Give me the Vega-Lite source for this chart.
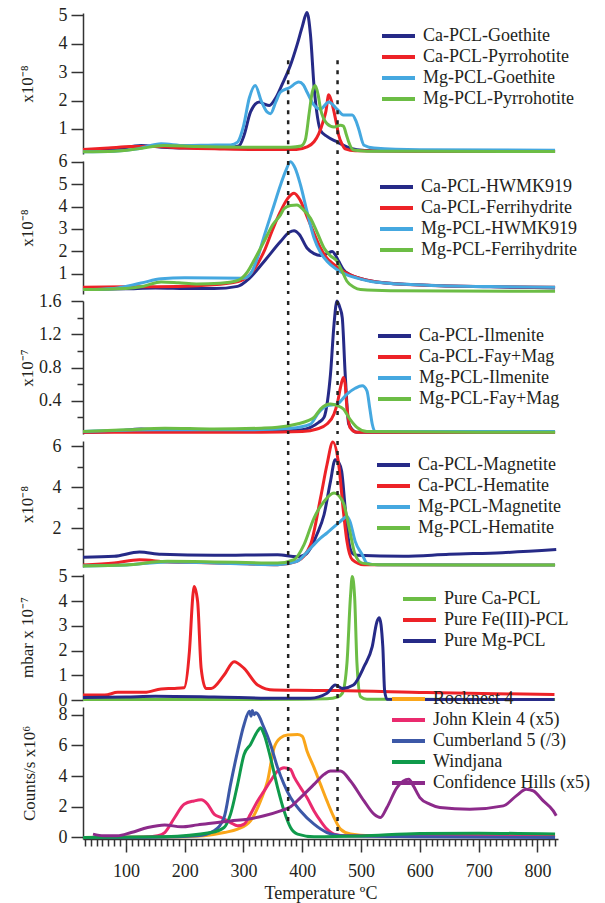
{
"$schema": "https://vega.github.io/schema/vega-lite/v6.json",
"padding": {"top": 6, "left": 18, "right": 5, "bottom": 2},
"spacing": 7,
"bounds": "flush",
"config": {
 "font": "Times New Roman, Liberation Serif, serif",
 "view": {"stroke": null},
 "axis": {"domainColor": "#333", "tickColor": "#333", "labelColor": "#231f20", "titleColor": "#231f20", "labelFont": "Times New Roman, Liberation Serif, serif", "titleFont": "Times New Roman, Liberation Serif, serif", "labelFontSize": 18, "titleFontSize": 17, "titleFontWeight": "normal", "grid": false, "domainWidth": 1.5, "tickWidth": 1.5, "labelPadding": 4, "labelOverlap": false},
 "legend": {"orient": "none", "title": null, "symbolType": "stroke", "symbolSize": 1089, "symbolStrokeWidth": 4, "labelFont": "Times New Roman, Liberation Serif, serif", "labelFontSize": 18, "labelColor": "#231f20", "labelOffset": 6, "clipHeight": 21, "rowPadding": 0, "padding": 0, "labelLimit": 300}
},
"resolve": {"scale": {"color": "independent", "x": "independent", "y": "independent"}, "legend": {"color": "independent"}},
"datasets": {
 "p1": [
  {"s":"Ca-PCL-Goethite","T":27,"v":0.22},{"s":"Ca-PCL-Goethite","T":80,"v":0.27},{"s":"Ca-PCL-Goethite","T":126,"v":0.42},{"s":"Ca-PCL-Goethite","T":160,"v":0.36},{"s":"Ca-PCL-Goethite","T":220,"v":0.33},{"s":"Ca-PCL-Goethite","T":278,"v":0.36},{"s":"Ca-PCL-Goethite","T":292,"v":0.4},{"s":"Ca-PCL-Goethite","T":301,"v":0.78},{"s":"Ca-PCL-Goethite","T":312,"v":1.6},{"s":"Ca-PCL-Goethite","T":327,"v":1.95},{"s":"Ca-PCL-Goethite","T":336,"v":1.87},{"s":"Ca-PCL-Goethite","T":344,"v":1.83},{"s":"Ca-PCL-Goethite","T":355,"v":2.1},{"s":"Ca-PCL-Goethite","T":366,"v":2.58},{"s":"Ca-PCL-Goethite","T":380,"v":3.25},{"s":"Ca-PCL-Goethite","T":391,"v":3.95},{"s":"Ca-PCL-Goethite","T":400,"v":4.6},{"s":"Ca-PCL-Goethite","T":408,"v":5.1},{"s":"Ca-PCL-Goethite","T":414,"v":4.3},{"s":"Ca-PCL-Goethite","T":420,"v":2.5},{"s":"Ca-PCL-Goethite","T":426,"v":1.4},{"s":"Ca-PCL-Goethite","T":431,"v":0.95},{"s":"Ca-PCL-Goethite","T":442,"v":0.74},{"s":"Ca-PCL-Goethite","T":459,"v":0.55},{"s":"Ca-PCL-Goethite","T":476,"v":0.37},{"s":"Ca-PCL-Goethite","T":493,"v":0.27},{"s":"Ca-PCL-Goethite","T":520,"v":0.23},{"s":"Ca-PCL-Goethite","T":650,"v":0.22},{"s":"Ca-PCL-Goethite","T":830,"v":0.21},
  {"s":"Ca-PCL-Pyrrohotite","T":27,"v":0.28},{"s":"Ca-PCL-Pyrrohotite","T":70,"v":0.33},{"s":"Ca-PCL-Pyrrohotite","T":109,"v":0.38},{"s":"Ca-PCL-Pyrrohotite","T":150,"v":0.38},{"s":"Ca-PCL-Pyrrohotite","T":200,"v":0.33},{"s":"Ca-PCL-Pyrrohotite","T":260,"v":0.3},{"s":"Ca-PCL-Pyrrohotite","T":330,"v":0.28},{"s":"Ca-PCL-Pyrrohotite","T":390,"v":0.28},{"s":"Ca-PCL-Pyrrohotite","T":408,"v":0.37},{"s":"Ca-PCL-Pyrrohotite","T":420,"v":0.55},{"s":"Ca-PCL-Pyrrohotite","T":428,"v":0.83},{"s":"Ca-PCL-Pyrrohotite","T":436,"v":1.3},{"s":"Ca-PCL-Pyrrohotite","T":440,"v":1.6},{"s":"Ca-PCL-Pyrrohotite","T":445,"v":2.2},{"s":"Ca-PCL-Pyrrohotite","T":450,"v":1.95},{"s":"Ca-PCL-Pyrrohotite","T":454,"v":1.6},{"s":"Ca-PCL-Pyrrohotite","T":458,"v":1.2},{"s":"Ca-PCL-Pyrrohotite","T":462,"v":0.78},{"s":"Ca-PCL-Pyrrohotite","T":468,"v":0.45},{"s":"Ca-PCL-Pyrrohotite","T":473,"v":0.3},{"s":"Ca-PCL-Pyrrohotite","T":490,"v":0.23},{"s":"Ca-PCL-Pyrrohotite","T":600,"v":0.22},{"s":"Ca-PCL-Pyrrohotite","T":830,"v":0.21},
  {"s":"Mg-PCL-Goethite","T":27,"v":0.2},{"s":"Mg-PCL-Goethite","T":80,"v":0.22},{"s":"Mg-PCL-Goethite","T":120,"v":0.3},{"s":"Mg-PCL-Goethite","T":160,"v":0.48},{"s":"Mg-PCL-Goethite","T":200,"v":0.42},{"s":"Mg-PCL-Goethite","T":240,"v":0.43},{"s":"Mg-PCL-Goethite","T":278,"v":0.44},{"s":"Mg-PCL-Goethite","T":290,"v":0.54},{"s":"Mg-PCL-Goethite","T":300,"v":1.1},{"s":"Mg-PCL-Goethite","T":310,"v":2.1},{"s":"Mg-PCL-Goethite","T":320,"v":2.53},{"s":"Mg-PCL-Goethite","T":330,"v":2.0},{"s":"Mg-PCL-Goethite","T":340,"v":1.6},{"s":"Mg-PCL-Goethite","T":346,"v":1.54},{"s":"Mg-PCL-Goethite","T":355,"v":1.95},{"s":"Mg-PCL-Goethite","T":363,"v":2.3},{"s":"Mg-PCL-Goethite","T":378,"v":2.45},{"s":"Mg-PCL-Goethite","T":394,"v":2.65},{"s":"Mg-PCL-Goethite","T":402,"v":2.55},{"s":"Mg-PCL-Goethite","T":408,"v":2.3},{"s":"Mg-PCL-Goethite","T":420,"v":1.84},{"s":"Mg-PCL-Goethite","T":431,"v":1.7},{"s":"Mg-PCL-Goethite","T":445,"v":1.95},{"s":"Mg-PCL-Goethite","T":459,"v":1.7},{"s":"Mg-PCL-Goethite","T":470,"v":1.49},{"s":"Mg-PCL-Goethite","T":485,"v":1.49},{"s":"Mg-PCL-Goethite","T":491,"v":1.3},{"s":"Mg-PCL-Goethite","T":496,"v":1.0},{"s":"Mg-PCL-Goethite","T":505,"v":0.43},{"s":"Mg-PCL-Goethite","T":522,"v":0.33},{"s":"Mg-PCL-Goethite","T":600,"v":0.27},{"s":"Mg-PCL-Goethite","T":830,"v":0.25},
  {"s":"Mg-PCL-Pyrrohotite","T":27,"v":0.2},{"s":"Mg-PCL-Pyrrohotite","T":80,"v":0.22},{"s":"Mg-PCL-Pyrrohotite","T":120,"v":0.3},{"s":"Mg-PCL-Pyrrohotite","T":165,"v":0.42},{"s":"Mg-PCL-Pyrrohotite","T":220,"v":0.38},{"s":"Mg-PCL-Pyrrohotite","T":300,"v":0.36},{"s":"Mg-PCL-Pyrrohotite","T":380,"v":0.36},{"s":"Mg-PCL-Pyrrohotite","T":398,"v":0.4},{"s":"Mg-PCL-Pyrrohotite","T":405,"v":0.6},{"s":"Mg-PCL-Pyrrohotite","T":412,"v":1.6},{"s":"Mg-PCL-Pyrrohotite","T":417,"v":2.3},{"s":"Mg-PCL-Pyrrohotite","T":422,"v":2.53},{"s":"Mg-PCL-Pyrrohotite","T":427,"v":2.2},{"s":"Mg-PCL-Pyrrohotite","T":431,"v":1.71},{"s":"Mg-PCL-Pyrrohotite","T":442,"v":1.19},{"s":"Mg-PCL-Pyrrohotite","T":454,"v":1.07},{"s":"Mg-PCL-Pyrrohotite","T":465,"v":1.13},{"s":"Mg-PCL-Pyrrohotite","T":470,"v":1.1},{"s":"Mg-PCL-Pyrrohotite","T":475,"v":0.8},{"s":"Mg-PCL-Pyrrohotite","T":479,"v":0.54},{"s":"Mg-PCL-Pyrrohotite","T":487,"v":0.26},{"s":"Mg-PCL-Pyrrohotite","T":510,"v":0.22},{"s":"Mg-PCL-Pyrrohotite","T":830,"v":0.21}
 ],
 "p2": [
  {"s":"Ca-PCL-HWMK919","T":27,"v":0.3},{"s":"Ca-PCL-HWMK919","T":100,"v":0.33},{"s":"Ca-PCL-HWMK919","T":150,"v":0.37},{"s":"Ca-PCL-HWMK919","T":200,"v":0.35},{"s":"Ca-PCL-HWMK919","T":250,"v":0.34},{"s":"Ca-PCL-HWMK919","T":290,"v":0.44},{"s":"Ca-PCL-HWMK919","T":310,"v":0.8},{"s":"Ca-PCL-HWMK919","T":335,"v":1.55},{"s":"Ca-PCL-HWMK919","T":363,"v":2.44},{"s":"Ca-PCL-HWMK919","T":378,"v":2.85},{"s":"Ca-PCL-HWMK919","T":386,"v":2.92},{"s":"Ca-PCL-HWMK919","T":395,"v":2.75},{"s":"Ca-PCL-HWMK919","T":408,"v":2.15},{"s":"Ca-PCL-HWMK919","T":420,"v":1.9},{"s":"Ca-PCL-HWMK919","T":431,"v":1.82},{"s":"Ca-PCL-HWMK919","T":442,"v":1.9},{"s":"Ca-PCL-HWMK919","T":451,"v":2.0},{"s":"Ca-PCL-HWMK919","T":456,"v":1.85},{"s":"Ca-PCL-HWMK919","T":462,"v":1.56},{"s":"Ca-PCL-HWMK919","T":470,"v":1.19},{"s":"Ca-PCL-HWMK919","T":480,"v":0.98},{"s":"Ca-PCL-HWMK919","T":493,"v":0.84},{"s":"Ca-PCL-HWMK919","T":527,"v":0.64},{"s":"Ca-PCL-HWMK919","T":612,"v":0.49},{"s":"Ca-PCL-HWMK919","T":720,"v":0.42},{"s":"Ca-PCL-HWMK919","T":830,"v":0.37},
  {"s":"Ca-PCL-Ferrihydrite","T":27,"v":0.4},{"s":"Ca-PCL-Ferrihydrite","T":100,"v":0.42},{"s":"Ca-PCL-Ferrihydrite","T":200,"v":0.45},{"s":"Ca-PCL-Ferrihydrite","T":277,"v":0.59},{"s":"Ca-PCL-Ferrihydrite","T":300,"v":0.75},{"s":"Ca-PCL-Ferrihydrite","T":318,"v":1.2},{"s":"Ca-PCL-Ferrihydrite","T":335,"v":2.0},{"s":"Ca-PCL-Ferrihydrite","T":350,"v":3.0},{"s":"Ca-PCL-Ferrihydrite","T":363,"v":3.78},{"s":"Ca-PCL-Ferrihydrite","T":375,"v":4.35},{"s":"Ca-PCL-Ferrihydrite","T":386,"v":4.59},{"s":"Ca-PCL-Ferrihydrite","T":396,"v":4.3},{"s":"Ca-PCL-Ferrihydrite","T":408,"v":3.56},{"s":"Ca-PCL-Ferrihydrite","T":420,"v":2.8},{"s":"Ca-PCL-Ferrihydrite","T":431,"v":2.15},{"s":"Ca-PCL-Ferrihydrite","T":442,"v":1.7},{"s":"Ca-PCL-Ferrihydrite","T":451,"v":1.48},{"s":"Ca-PCL-Ferrihydrite","T":470,"v":1.11},{"s":"Ca-PCL-Ferrihydrite","T":493,"v":0.84},{"s":"Ca-PCL-Ferrihydrite","T":527,"v":0.64},{"s":"Ca-PCL-Ferrihydrite","T":612,"v":0.49},{"s":"Ca-PCL-Ferrihydrite","T":720,"v":0.43},{"s":"Ca-PCL-Ferrihydrite","T":830,"v":0.4},
  {"s":"Mg-PCL-HWMK919","T":27,"v":0.3},{"s":"Mg-PCL-HWMK919","T":80,"v":0.35},{"s":"Mg-PCL-HWMK919","T":126,"v":0.59},{"s":"Mg-PCL-HWMK919","T":160,"v":0.78},{"s":"Mg-PCL-HWMK919","T":200,"v":0.82},{"s":"Mg-PCL-HWMK919","T":300,"v":0.8},{"s":"Mg-PCL-HWMK919","T":312,"v":1.0},{"s":"Mg-PCL-HWMK919","T":325,"v":1.8},{"s":"Mg-PCL-HWMK919","T":335,"v":2.67},{"s":"Mg-PCL-HWMK919","T":350,"v":3.9},{"s":"Mg-PCL-HWMK919","T":363,"v":4.96},{"s":"Mg-PCL-HWMK919","T":372,"v":5.6},{"s":"Mg-PCL-HWMK919","T":380,"v":6.0},{"s":"Mg-PCL-HWMK919","T":388,"v":5.7},{"s":"Mg-PCL-HWMK919","T":397,"v":4.96},{"s":"Mg-PCL-HWMK919","T":408,"v":3.78},{"s":"Mg-PCL-HWMK919","T":420,"v":2.6},{"s":"Mg-PCL-HWMK919","T":431,"v":1.95},{"s":"Mg-PCL-HWMK919","T":442,"v":1.56},{"s":"Mg-PCL-HWMK919","T":459,"v":1.19},{"s":"Mg-PCL-HWMK919","T":476,"v":0.95},{"s":"Mg-PCL-HWMK919","T":493,"v":0.81},{"s":"Mg-PCL-HWMK919","T":527,"v":0.62},{"s":"Mg-PCL-HWMK919","T":612,"v":0.49},{"s":"Mg-PCL-HWMK919","T":720,"v":0.43},{"s":"Mg-PCL-HWMK919","T":830,"v":0.4},
  {"s":"Mg-PCL-Ferrihydrite","T":27,"v":0.3},{"s":"Mg-PCL-Ferrihydrite","T":100,"v":0.35},{"s":"Mg-PCL-Ferrihydrite","T":130,"v":0.45},{"s":"Mg-PCL-Ferrihydrite","T":160,"v":0.64},{"s":"Mg-PCL-Ferrihydrite","T":190,"v":0.6},{"s":"Mg-PCL-Ferrihydrite","T":220,"v":0.55},{"s":"Mg-PCL-Ferrihydrite","T":260,"v":0.58},{"s":"Mg-PCL-Ferrihydrite","T":290,"v":0.7},{"s":"Mg-PCL-Ferrihydrite","T":307,"v":1.1},{"s":"Mg-PCL-Ferrihydrite","T":320,"v":1.7},{"s":"Mg-PCL-Ferrihydrite","T":335,"v":2.44},{"s":"Mg-PCL-Ferrihydrite","T":350,"v":3.2},{"s":"Mg-PCL-Ferrihydrite","T":363,"v":3.63},{"s":"Mg-PCL-Ferrihydrite","T":369,"v":3.9},{"s":"Mg-PCL-Ferrihydrite","T":380,"v":4.05},{"s":"Mg-PCL-Ferrihydrite","T":391,"v":4.07},{"s":"Mg-PCL-Ferrihydrite","T":402,"v":3.85},{"s":"Mg-PCL-Ferrihydrite","T":414,"v":3.48},{"s":"Mg-PCL-Ferrihydrite","T":426,"v":2.8},{"s":"Mg-PCL-Ferrihydrite","T":437,"v":2.15},{"s":"Mg-PCL-Ferrihydrite","T":448,"v":1.8},{"s":"Mg-PCL-Ferrihydrite","T":459,"v":1.56},{"s":"Mg-PCL-Ferrihydrite","T":467,"v":1.15},{"s":"Mg-PCL-Ferrihydrite","T":476,"v":0.67},{"s":"Mg-PCL-Ferrihydrite","T":488,"v":0.4},{"s":"Mg-PCL-Ferrihydrite","T":499,"v":0.3},{"s":"Mg-PCL-Ferrihydrite","T":550,"v":0.25},{"s":"Mg-PCL-Ferrihydrite","T":830,"v":0.22}
 ],
 "p3": [
  {"s":"Ca-PCL-Ilmenite","T":27,"v":0.02},{"s":"Ca-PCL-Ilmenite","T":80,"v":0.03},{"s":"Ca-PCL-Ilmenite","T":126,"v":0.06},{"s":"Ca-PCL-Ilmenite","T":170,"v":0.04},{"s":"Ca-PCL-Ilmenite","T":250,"v":0.03},{"s":"Ca-PCL-Ilmenite","T":350,"v":0.03},{"s":"Ca-PCL-Ilmenite","T":400,"v":0.05},{"s":"Ca-PCL-Ilmenite","T":414,"v":0.08},{"s":"Ca-PCL-Ilmenite","T":428,"v":0.14},{"s":"Ca-PCL-Ilmenite","T":437,"v":0.2},{"s":"Ca-PCL-Ilmenite","T":443,"v":0.4},{"s":"Ca-PCL-Ilmenite","T":448,"v":0.72},{"s":"Ca-PCL-Ilmenite","T":454,"v":1.32},{"s":"Ca-PCL-Ilmenite","T":459,"v":1.6},{"s":"Ca-PCL-Ilmenite","T":464,"v":1.52},{"s":"Ca-PCL-Ilmenite","T":468,"v":1.4},{"s":"Ca-PCL-Ilmenite","T":473,"v":0.72},{"s":"Ca-PCL-Ilmenite","T":479,"v":0.12},{"s":"Ca-PCL-Ilmenite","T":493,"v":0.02},{"s":"Ca-PCL-Ilmenite","T":830,"v":0.02},
  {"s":"Ca-PCL-Fay+Mag","T":27,"v":0.02},{"s":"Ca-PCL-Fay+Mag","T":200,"v":0.02},{"s":"Ca-PCL-Fay+Mag","T":330,"v":0.02},{"s":"Ca-PCL-Fay+Mag","T":400,"v":0.03},{"s":"Ca-PCL-Fay+Mag","T":425,"v":0.06},{"s":"Ca-PCL-Fay+Mag","T":442,"v":0.12},{"s":"Ca-PCL-Fay+Mag","T":454,"v":0.24},{"s":"Ca-PCL-Fay+Mag","T":460,"v":0.38},{"s":"Ca-PCL-Fay+Mag","T":465,"v":0.56},{"s":"Ca-PCL-Fay+Mag","T":470,"v":0.68},{"s":"Ca-PCL-Fay+Mag","T":473,"v":0.6},{"s":"Ca-PCL-Fay+Mag","T":475,"v":0.4},{"s":"Ca-PCL-Fay+Mag","T":478,"v":0.2},{"s":"Ca-PCL-Fay+Mag","T":481,"v":0.08},{"s":"Ca-PCL-Fay+Mag","T":493,"v":0.02},{"s":"Ca-PCL-Fay+Mag","T":830,"v":0.02},
  {"s":"Mg-PCL-Ilmenite","T":27,"v":0.03},{"s":"Mg-PCL-Ilmenite","T":150,"v":0.05},{"s":"Mg-PCL-Ilmenite","T":300,"v":0.05},{"s":"Mg-PCL-Ilmenite","T":380,"v":0.07},{"s":"Mg-PCL-Ilmenite","T":414,"v":0.12},{"s":"Mg-PCL-Ilmenite","T":428,"v":0.26},{"s":"Mg-PCL-Ilmenite","T":442,"v":0.34},{"s":"Mg-PCL-Ilmenite","T":459,"v":0.36},{"s":"Mg-PCL-Ilmenite","T":476,"v":0.48},{"s":"Mg-PCL-Ilmenite","T":490,"v":0.55},{"s":"Mg-PCL-Ilmenite","T":502,"v":0.58},{"s":"Mg-PCL-Ilmenite","T":510,"v":0.52},{"s":"Mg-PCL-Ilmenite","T":515,"v":0.3},{"s":"Mg-PCL-Ilmenite","T":519,"v":0.12},{"s":"Mg-PCL-Ilmenite","T":524,"v":0.03},{"s":"Mg-PCL-Ilmenite","T":600,"v":0.03},{"s":"Mg-PCL-Ilmenite","T":830,"v":0.03},
  {"s":"Mg-PCL-Fay+Mag","T":27,"v":0.03},{"s":"Mg-PCL-Fay+Mag","T":100,"v":0.05},{"s":"Mg-PCL-Fay+Mag","T":166,"v":0.07},{"s":"Mg-PCL-Fay+Mag","T":250,"v":0.06},{"s":"Mg-PCL-Fay+Mag","T":330,"v":0.07},{"s":"Mg-PCL-Fay+Mag","T":358,"v":0.08},{"s":"Mg-PCL-Fay+Mag","T":391,"v":0.12},{"s":"Mg-PCL-Fay+Mag","T":410,"v":0.16},{"s":"Mg-PCL-Fay+Mag","T":420,"v":0.2},{"s":"Mg-PCL-Fay+Mag","T":431,"v":0.3},{"s":"Mg-PCL-Fay+Mag","T":448,"v":0.36},{"s":"Mg-PCL-Fay+Mag","T":460,"v":0.34},{"s":"Mg-PCL-Fay+Mag","T":470,"v":0.3},{"s":"Mg-PCL-Fay+Mag","T":481,"v":0.18},{"s":"Mg-PCL-Fay+Mag","T":493,"v":0.08},{"s":"Mg-PCL-Fay+Mag","T":510,"v":0.03},{"s":"Mg-PCL-Fay+Mag","T":830,"v":0.02}
 ],
 "p4": [
  {"s":"Ca-PCL-Magnetite","T":27,"v":0.57},{"s":"Ca-PCL-Magnetite","T":80,"v":0.62},{"s":"Ca-PCL-Magnetite","T":123,"v":0.83},{"s":"Ca-PCL-Magnetite","T":160,"v":0.72},{"s":"Ca-PCL-Magnetite","T":250,"v":0.67},{"s":"Ca-PCL-Magnetite","T":358,"v":0.7},{"s":"Ca-PCL-Magnetite","T":391,"v":0.6},{"s":"Ca-PCL-Magnetite","T":405,"v":0.7},{"s":"Ca-PCL-Magnetite","T":414,"v":1.02},{"s":"Ca-PCL-Magnetite","T":425,"v":1.7},{"s":"Ca-PCL-Magnetite","T":437,"v":2.65},{"s":"Ca-PCL-Magnetite","T":448,"v":4.28},{"s":"Ca-PCL-Magnetite","T":456,"v":5.34},{"s":"Ca-PCL-Magnetite","T":462,"v":5.2},{"s":"Ca-PCL-Magnetite","T":467,"v":4.77},{"s":"Ca-PCL-Magnetite","T":473,"v":2.98},{"s":"Ca-PCL-Magnetite","T":479,"v":1.35},{"s":"Ca-PCL-Magnetite","T":485,"v":0.78},{"s":"Ca-PCL-Magnetite","T":493,"v":0.67},{"s":"Ca-PCL-Magnetite","T":572,"v":0.62},{"s":"Ca-PCL-Magnetite","T":650,"v":0.72},{"s":"Ca-PCL-Magnetite","T":740,"v":0.8},{"s":"Ca-PCL-Magnetite","T":832,"v":0.95},
  {"s":"Ca-PCL-Hematite","T":27,"v":0.2},{"s":"Ca-PCL-Hematite","T":80,"v":0.3},{"s":"Ca-PCL-Hematite","T":123,"v":0.45},{"s":"Ca-PCL-Hematite","T":170,"v":0.35},{"s":"Ca-PCL-Hematite","T":250,"v":0.3},{"s":"Ca-PCL-Hematite","T":310,"v":0.25},{"s":"Ca-PCL-Hematite","T":358,"v":0.21},{"s":"Ca-PCL-Hematite","T":391,"v":0.38},{"s":"Ca-PCL-Hematite","T":414,"v":1.19},{"s":"Ca-PCL-Hematite","T":431,"v":3.46},{"s":"Ca-PCL-Hematite","T":442,"v":5.09},{"s":"Ca-PCL-Hematite","T":452,"v":6.2},{"s":"Ca-PCL-Hematite","T":462,"v":5.09},{"s":"Ca-PCL-Hematite","T":470,"v":2.81},{"s":"Ca-PCL-Hematite","T":476,"v":1.35},{"s":"Ca-PCL-Hematite","T":485,"v":0.46},{"s":"Ca-PCL-Hematite","T":505,"v":0.21},{"s":"Ca-PCL-Hematite","T":830,"v":0.2},
  {"s":"Mg-PCL-Magnetite","T":27,"v":0.15},{"s":"Mg-PCL-Magnetite","T":100,"v":0.2},{"s":"Mg-PCL-Magnetite","T":170,"v":0.35},{"s":"Mg-PCL-Magnetite","T":250,"v":0.3},{"s":"Mg-PCL-Magnetite","T":358,"v":0.21},{"s":"Mg-PCL-Magnetite","T":391,"v":0.38},{"s":"Mg-PCL-Magnetite","T":414,"v":1.02},{"s":"Mg-PCL-Magnetite","T":431,"v":1.51},{"s":"Mg-PCL-Magnetite","T":442,"v":1.76},{"s":"Mg-PCL-Magnetite","T":465,"v":2.33},{"s":"Mg-PCL-Magnetite","T":476,"v":2.57},{"s":"Mg-PCL-Magnetite","T":481,"v":2.33},{"s":"Mg-PCL-Magnetite","T":490,"v":1.35},{"s":"Mg-PCL-Magnetite","T":502,"v":0.7},{"s":"Mg-PCL-Magnetite","T":510,"v":0.29},{"s":"Mg-PCL-Magnetite","T":527,"v":0.21},{"s":"Mg-PCL-Magnetite","T":830,"v":0.2},
  {"s":"Mg-PCL-Hematite","T":27,"v":0.15},{"s":"Mg-PCL-Hematite","T":100,"v":0.2},{"s":"Mg-PCL-Hematite","T":170,"v":0.38},{"s":"Mg-PCL-Hematite","T":250,"v":0.35},{"s":"Mg-PCL-Hematite","T":330,"v":0.3},{"s":"Mg-PCL-Hematite","T":358,"v":0.29},{"s":"Mg-PCL-Hematite","T":386,"v":0.46},{"s":"Mg-PCL-Hematite","T":403,"v":1.19},{"s":"Mg-PCL-Hematite","T":420,"v":2.49},{"s":"Mg-PCL-Hematite","T":437,"v":3.3},{"s":"Mg-PCL-Hematite","T":454,"v":3.71},{"s":"Mg-PCL-Hematite","T":470,"v":3.22},{"s":"Mg-PCL-Hematite","T":481,"v":1.84},{"s":"Mg-PCL-Hematite","T":490,"v":0.7},{"s":"Mg-PCL-Hematite","T":502,"v":0.29},{"s":"Mg-PCL-Hematite","T":530,"v":0.21},{"s":"Mg-PCL-Hematite","T":830,"v":0.2}
 ],
 "p5": [
  {"s":"Pure Ca-PCL","T":27,"v":0.02},{"s":"Pure Ca-PCL","T":200,"v":0.02},{"s":"Pure Ca-PCL","T":400,"v":0.03},{"s":"Pure Ca-PCL","T":442,"v":0.05},{"s":"Pure Ca-PCL","T":460,"v":0.12},{"s":"Pure Ca-PCL","T":468,"v":0.27},{"s":"Pure Ca-PCL","T":476,"v":1.49},{"s":"Pure Ca-PCL","T":482,"v":4.19},{"s":"Pure Ca-PCL","T":485,"v":5.0},{"s":"Pure Ca-PCL","T":489,"v":4.19},{"s":"Pure Ca-PCL","T":493,"v":1.49},{"s":"Pure Ca-PCL","T":499,"v":0.14},{"s":"Pure Ca-PCL","T":510,"v":0.03},{"s":"Pure Ca-PCL","T":830,"v":0.02},
  {"s":"Pure Fe(III)-PCL","T":27,"v":0.2},{"s":"Pure Fe(III)-PCL","T":64,"v":0.2},{"s":"Pure Fe(III)-PCL","T":86,"v":0.31},{"s":"Pure Fe(III)-PCL","T":132,"v":0.31},{"s":"Pure Fe(III)-PCL","T":160,"v":0.45},{"s":"Pure Fe(III)-PCL","T":183,"v":0.47},{"s":"Pure Fe(III)-PCL","T":199,"v":0.5},{"s":"Pure Fe(III)-PCL","T":208,"v":1.96},{"s":"Pure Fe(III)-PCL","T":214,"v":4.25},{"s":"Pure Fe(III)-PCL","T":216,"v":4.59},{"s":"Pure Fe(III)-PCL","T":222,"v":3.98},{"s":"Pure Fe(III)-PCL","T":228,"v":1.28},{"s":"Pure Fe(III)-PCL","T":236,"v":0.47},{"s":"Pure Fe(III)-PCL","T":245,"v":0.47},{"s":"Pure Fe(III)-PCL","T":267,"v":1.01},{"s":"Pure Fe(III)-PCL","T":284,"v":1.55},{"s":"Pure Fe(III)-PCL","T":301,"v":1.28},{"s":"Pure Fe(III)-PCL","T":324,"v":0.61},{"s":"Pure Fe(III)-PCL","T":352,"v":0.4},{"s":"Pure Fe(III)-PCL","T":392,"v":0.39},{"s":"Pure Fe(III)-PCL","T":459,"v":0.38},{"s":"Pure Fe(III)-PCL","T":611,"v":0.3},{"s":"Pure Fe(III)-PCL","T":829,"v":0.22},
  {"s":"Pure Mg-PCL","T":27,"v":0.1},{"s":"Pure Mg-PCL","T":100,"v":0.12},{"s":"Pure Mg-PCL","T":150,"v":0.15},{"s":"Pure Mg-PCL","T":250,"v":0.12},{"s":"Pure Mg-PCL","T":358,"v":0.07},{"s":"Pure Mg-PCL","T":414,"v":0.07},{"s":"Pure Mg-PCL","T":442,"v":0.27},{"s":"Pure Mg-PCL","T":456,"v":0.61},{"s":"Pure Mg-PCL","T":468,"v":0.47},{"s":"Pure Mg-PCL","T":487,"v":0.61},{"s":"Pure Mg-PCL","T":505,"v":1.35},{"s":"Pure Mg-PCL","T":519,"v":2.16},{"s":"Pure Mg-PCL","T":527,"v":3.17},{"s":"Pure Mg-PCL","T":531,"v":3.33},{"s":"Pure Mg-PCL","T":537,"v":2.16},{"s":"Pure Mg-PCL","T":540,"v":0.4},{"s":"Pure Mg-PCL","T":544,"v":0.03},{"s":"Pure Mg-PCL","T":600,"v":0.02},{"s":"Pure Mg-PCL","T":829,"v":0.02}
 ],
 "p6": [
  {"s":"Rocknest 4","T":27,"v":0.0},{"s":"Rocknest 4","T":200,"v":0.05},{"s":"Rocknest 4","T":233,"v":0.11},{"s":"Rocknest 4","T":267,"v":0.32},{"s":"Rocknest 4","T":290,"v":0.54},{"s":"Rocknest 4","T":312,"v":1.08},{"s":"Rocknest 4","T":329,"v":2.38},{"s":"Rocknest 4","T":341,"v":3.68},{"s":"Rocknest 4","T":352,"v":5.84},{"s":"Rocknest 4","T":363,"v":6.49},{"s":"Rocknest 4","T":375,"v":6.67},{"s":"Rocknest 4","T":392,"v":6.71},{"s":"Rocknest 4","T":400,"v":6.6},{"s":"Rocknest 4","T":408,"v":5.63},{"s":"Rocknest 4","T":420,"v":4.55},{"s":"Rocknest 4","T":431,"v":3.46},{"s":"Rocknest 4","T":442,"v":2.38},{"s":"Rocknest 4","T":454,"v":1.3},{"s":"Rocknest 4","T":465,"v":0.54},{"s":"Rocknest 4","T":482,"v":0.22},{"s":"Rocknest 4","T":516,"v":0.11},{"s":"Rocknest 4","T":650,"v":0.1},{"s":"Rocknest 4","T":830,"v":0.1},
  {"s":"John Klein 4 (x5)","T":27,"v":0.0},{"s":"John Klein 4 (x5)","T":130,"v":0.02},{"s":"John Klein 4 (x5)","T":154,"v":0.11},{"s":"John Klein 4 (x5)","T":166,"v":0.32},{"s":"John Klein 4 (x5)","T":183,"v":1.3},{"s":"John Klein 4 (x5)","T":199,"v":2.17},{"s":"John Klein 4 (x5)","T":216,"v":2.38},{"s":"John Klein 4 (x5)","T":228,"v":2.45},{"s":"John Klein 4 (x5)","T":239,"v":2.17},{"s":"John Klein 4 (x5)","T":250,"v":1.52},{"s":"John Klein 4 (x5)","T":262,"v":1.3},{"s":"John Klein 4 (x5)","T":278,"v":0.97},{"s":"John Klein 4 (x5)","T":290,"v":0.76},{"s":"John Klein 4 (x5)","T":301,"v":0.87},{"s":"John Klein 4 (x5)","T":312,"v":1.52},{"s":"John Klein 4 (x5)","T":324,"v":2.38},{"s":"John Klein 4 (x5)","T":335,"v":3.03},{"s":"John Klein 4 (x5)","T":346,"v":3.68},{"s":"John Klein 4 (x5)","T":358,"v":4.33},{"s":"John Klein 4 (x5)","T":369,"v":4.55},{"s":"John Klein 4 (x5)","T":380,"v":4.44},{"s":"John Klein 4 (x5)","T":386,"v":3.95},{"s":"John Klein 4 (x5)","T":397,"v":3.25},{"s":"John Klein 4 (x5)","T":408,"v":2.6},{"s":"John Klein 4 (x5)","T":420,"v":1.73},{"s":"John Klein 4 (x5)","T":431,"v":1.08},{"s":"John Klein 4 (x5)","T":442,"v":0.54},{"s":"John Klein 4 (x5)","T":454,"v":0.22},{"s":"John Klein 4 (x5)","T":476,"v":0.11},{"s":"John Klein 4 (x5)","T":650,"v":0.12},{"s":"John Klein 4 (x5)","T":830,"v":0.1},
  {"s":"Cumberland 5 (/3)","T":27,"v":0.0},{"s":"Cumberland 5 (/3)","T":150,"v":0.02},{"s":"Cumberland 5 (/3)","T":222,"v":0.11},{"s":"Cumberland 5 (/3)","T":250,"v":0.43},{"s":"Cumberland 5 (/3)","T":267,"v":1.3},{"s":"Cumberland 5 (/3)","T":278,"v":3.46},{"s":"Cumberland 5 (/3)","T":290,"v":5.63},{"s":"Cumberland 5 (/3)","T":301,"v":7.36},{"s":"Cumberland 5 (/3)","T":310,"v":8.23},{"s":"Cumberland 5 (/3)","T":313,"v":7.9},{"s":"Cumberland 5 (/3)","T":315,"v":8.27},{"s":"Cumberland 5 (/3)","T":318,"v":8.0},{"s":"Cumberland 5 (/3)","T":321,"v":8.12},{"s":"Cumberland 5 (/3)","T":335,"v":7.14},{"s":"Cumberland 5 (/3)","T":346,"v":6.06},{"s":"Cumberland 5 (/3)","T":358,"v":4.55},{"s":"Cumberland 5 (/3)","T":369,"v":3.46},{"s":"Cumberland 5 (/3)","T":380,"v":2.6},{"s":"Cumberland 5 (/3)","T":397,"v":1.73},{"s":"Cumberland 5 (/3)","T":420,"v":0.87},{"s":"Cumberland 5 (/3)","T":442,"v":0.32},{"s":"Cumberland 5 (/3)","T":465,"v":0.11},{"s":"Cumberland 5 (/3)","T":600,"v":0.05},{"s":"Cumberland 5 (/3)","T":830,"v":0.0},
  {"s":"Windjana","T":27,"v":0.0},{"s":"Windjana","T":166,"v":0.05},{"s":"Windjana","T":245,"v":0.32},{"s":"Windjana","T":267,"v":0.65},{"s":"Windjana","T":278,"v":1.52},{"s":"Windjana","T":290,"v":3.46},{"s":"Windjana","T":301,"v":5.41},{"s":"Windjana","T":312,"v":6.06},{"s":"Windjana","T":324,"v":6.93},{"s":"Windjana","T":329,"v":7.14},{"s":"Windjana","T":335,"v":6.71},{"s":"Windjana","T":346,"v":5.19},{"s":"Windjana","T":358,"v":3.25},{"s":"Windjana","T":369,"v":1.73},{"s":"Windjana","T":380,"v":0.65},{"s":"Windjana","T":392,"v":0.22},{"s":"Windjana","T":420,"v":0.05},{"s":"Windjana","T":500,"v":0.1},{"s":"Windjana","T":600,"v":0.26},{"s":"Windjana","T":700,"v":0.28},{"s":"Windjana","T":830,"v":0.22},
  {"s":"Confidence Hills (x5)","T":44,"v":0.22},{"s":"Confidence Hills (x5)","T":62,"v":0.11},{"s":"Confidence Hills (x5)","T":85,"v":0.11},{"s":"Confidence Hills (x5)","T":109,"v":0.32},{"s":"Confidence Hills (x5)","T":137,"v":0.65},{"s":"Confidence Hills (x5)","T":166,"v":0.82},{"s":"Confidence Hills (x5)","T":194,"v":0.69},{"s":"Confidence Hills (x5)","T":222,"v":0.82},{"s":"Confidence Hills (x5)","T":278,"v":1.08},{"s":"Confidence Hills (x5)","T":307,"v":1.19},{"s":"Confidence Hills (x5)","T":335,"v":1.41},{"s":"Confidence Hills (x5)","T":363,"v":1.73},{"s":"Confidence Hills (x5)","T":380,"v":2.0},{"s":"Confidence Hills (x5)","T":397,"v":2.6},{"s":"Confidence Hills (x5)","T":420,"v":3.46},{"s":"Confidence Hills (x5)","T":437,"v":4.11},{"s":"Confidence Hills (x5)","T":448,"v":4.33},{"s":"Confidence Hills (x5)","T":465,"v":4.33},{"s":"Confidence Hills (x5)","T":482,"v":3.68},{"s":"Confidence Hills (x5)","T":505,"v":2.38},{"s":"Confidence Hills (x5)","T":522,"v":1.52},{"s":"Confidence Hills (x5)","T":533,"v":1.3},{"s":"Confidence Hills (x5)","T":544,"v":1.95},{"s":"Confidence Hills (x5)","T":561,"v":3.25},{"s":"Confidence Hills (x5)","T":572,"v":3.68},{"s":"Confidence Hills (x5)","T":581,"v":3.79},{"s":"Confidence Hills (x5)","T":589,"v":3.36},{"s":"Confidence Hills (x5)","T":600,"v":2.6},{"s":"Confidence Hills (x5)","T":617,"v":2.17},{"s":"Confidence Hills (x5)","T":634,"v":1.95},{"s":"Confidence Hills (x5)","T":685,"v":1.84},{"s":"Confidence Hills (x5)","T":742,"v":2.06},{"s":"Confidence Hills (x5)","T":764,"v":2.71},{"s":"Confidence Hills (x5)","T":781,"v":3.14},{"s":"Confidence Hills (x5)","T":793,"v":3.03},{"s":"Confidence Hills (x5)","T":810,"v":2.38},{"s":"Confidence Hills (x5)","T":827,"v":1.73},{"s":"Confidence Hills (x5)","T":832,"v":1.41}
 ],
 "d1": [{"T":376,"y":3.42,"y2":0.12},{"T":460,"y":3.42,"y2":0.12}],
 "dm": [{"T":376},{"T":460}],
 "d6": [{"T":376,"y":8.5,"y2":0.9},{"T":460,"y":8.5,"y2":0.3}]
},
"vconcat": [
 {"width": 475, "height": 141, "layer": [
  {"data": {"name": "p1"}, "mark": {"type": "line", "strokeWidth": 3, "interpolate": "monotone"},
   "encoding": {
    "x": {"field": "T", "type": "quantitative", "scale": {"domain": [27, 835], "nice": false, "zero": false}, "axis": null},
    "y": {"field": "v", "type": "quantitative", "scale": {"domain": [0.12, 5.08], "nice": false, "zero": false}, "axis": {"values": [1,2,3,4,5], "tickCount": 100, "format": "d", "title": "x10⁻⁸", "titleX": -56, "titleAngle": -90, "titleBaseline": "middle", "titleAlign": "center", "tickSize": 12}},
    "color": {"field": "s", "type": "nominal", "scale": {"domain": ["Ca-PCL-Goethite","Ca-PCL-Pyrrohotite","Mg-PCL-Goethite","Mg-PCL-Pyrrohotite"], "range": ["#262a87","#ed2227","#45a8e0","#6cbd45"]}, "legend": {"legendX": 297, "legendY": 12.5}}
   }},
  {"data": {"name": "d1"}, "mark": {"type": "rule", "strokeDash": [4, 6], "strokeWidth": 2.5, "color": "#222"},
   "encoding": {"x": {"field": "T", "type": "quantitative"}, "y": {"field": "y", "type": "quantitative"}, "y2": {"field": "y2"}}}
 ]},
 {"width": 475, "height": 133, "layer": [
  {"data": {"name": "p2"}, "mark": {"type": "line", "strokeWidth": 3, "interpolate": "monotone"},
   "encoding": {
    "x": {"field": "T", "type": "quantitative", "scale": {"domain": [27, 835], "nice": false, "zero": false}, "axis": null},
    "y": {"field": "v", "type": "quantitative", "scale": {"domain": [0.1, 6.03], "nice": false, "zero": false}, "axis": {"values": [1,2,3,4,5,6], "tickCount": 100, "format": "d", "title": "x10⁻⁸", "titleX": -56, "titleAngle": -90, "titleBaseline": "middle", "titleAlign": "center", "tickSize": 12}},
    "color": {"field": "s", "type": "nominal", "scale": {"domain": ["Ca-PCL-HWMK919","Ca-PCL-Ferrihydrite","Mg-PCL-HWMK919","Mg-PCL-Ferrihydrite"], "range": ["#262a87","#ed2227","#45a8e0","#6cbd45"]}, "legend": {"legendX": 295, "legendY": 15.5}}
   }},
  {"data": {"name": "dm"}, "mark": {"type": "rule", "strokeDash": [4, 6], "strokeWidth": 2.5, "color": "#222"},
   "encoding": {"x": {"field": "T", "type": "quantitative"}}}
 ]},
 {"width": 475, "height": 133, "layer": [
  {"data": {"name": "p3"}, "mark": {"type": "line", "strokeWidth": 3, "interpolate": "monotone"},
   "encoding": {
    "x": {"field": "T", "type": "quantitative", "scale": {"domain": [27, 835], "nice": false, "zero": false}, "axis": null},
    "y": {"field": "v", "type": "quantitative", "scale": {"domain": [0, 1.6], "nice": false, "zero": false}, "axis": {"values": [0.2,0.4,0.6,0.8,1.0,1.2,1.4,1.6], "tickCount": 100, "format": ".1f", "labelExpr": "round(datum.value*10) % 4 == 0 ? datum.label : ''", "tickSize": {"condition": {"test": "round(datum.value*10) % 4 == 0", "value": 12}, "value": 6}, "title": "x10⁻⁷", "titleX": -56, "titleAngle": -90, "titleBaseline": "middle", "titleAlign": "center", "labelPadding": 10}},
    "color": {"field": "s", "type": "nominal", "scale": {"domain": ["Ca-PCL-Ilmenite","Ca-PCL-Fay+Mag","Mg-PCL-Ilmenite","Mg-PCL-Fay+Mag"], "range": ["#262a87","#ed2227","#45a8e0","#6cbd45"]}, "legend": {"legendX": 293, "legendY": 24.5}}
   }},
  {"data": {"name": "dm"}, "mark": {"type": "rule", "strokeDash": [4, 6], "strokeWidth": 2.5, "color": "#222"},
   "encoding": {"x": {"field": "T", "type": "quantitative"}}}
 ]},
 {"width": 475, "height": 126, "layer": [
  {"data": {"name": "p4"}, "mark": {"type": "line", "strokeWidth": 3, "interpolate": "monotone"},
   "encoding": {
    "x": {"field": "T", "type": "quantitative", "scale": {"domain": [27, 835], "nice": false, "zero": false}, "axis": null},
    "y": {"field": "v", "type": "quantitative", "scale": {"domain": [0.1, 6.25], "nice": false, "zero": false}, "axis": {"values": [1,2,3,4,5,6], "tickCount": 100, "format": "d", "labelExpr": "datum.value % 2 == 0 ? datum.label : ''", "tickSize": {"condition": {"test": "datum.value % 2 == 0", "value": 12}, "value": 6}, "title": "x10⁻⁸", "titleX": -56, "titleAngle": -90, "titleBaseline": "middle", "titleAlign": "center", "labelPadding": 10}},
    "color": {"field": "s", "type": "nominal", "scale": {"domain": ["Ca-PCL-Magnetite","Ca-PCL-Hematite","Mg-PCL-Magnetite","Mg-PCL-Hematite"], "range": ["#262a87","#ed2227","#45a8e0","#6cbd45"]}, "legend": {"legendX": 292, "legendY": 13.5}}
   }},
  {"data": {"name": "dm"}, "mark": {"type": "rule", "strokeDash": [4, 6], "strokeWidth": 2.5, "color": "#222"},
   "encoding": {"x": {"field": "T", "type": "quantitative"}}}
 ]},
 {"width": 475, "height": 126, "layer": [
  {"data": {"name": "p5"}, "mark": {"type": "line", "strokeWidth": 3, "interpolate": "monotone"},
   "encoding": {
    "x": {"field": "T", "type": "quantitative", "scale": {"domain": [27, 835], "nice": false, "zero": false}, "axis": null},
    "y": {"field": "v", "type": "quantitative", "scale": {"domain": [0, 5.1], "nice": false, "zero": false}, "axis": {"values": [0,1,2,3,4,5], "tickCount": 100, "format": "d", "title": "mbar x 10⁻⁷", "titleX": -56, "titleAngle": -90, "titleBaseline": "middle", "titleAlign": "center", "tickSize": 12}},
    "color": {"field": "s", "type": "nominal", "scale": {"domain": ["Pure Ca-PCL","Pure Fe(III)-PCL","Pure Mg-PCL"], "range": ["#6cbd45","#ed2227","#262a87"]}, "legend": {"legendX": 318, "legendY": 14.5}}
   }},
  {"data": {"name": "dm"}, "mark": {"type": "rule", "strokeDash": [4, 6], "strokeWidth": 2.5, "color": "#222"},
   "encoding": {"x": {"field": "T", "type": "quantitative"}}}
 ]},
 {"width": 475, "height": 132, "layer": [
  {"data": {"name": "p6"}, "mark": {"type": "line", "strokeWidth": 3, "interpolate": "monotone"},
   "encoding": {
    "x": {"field": "T", "type": "quantitative", "scale": {"domain": [27, 835], "nice": false, "zero": false}, "axis": {"values": [30,40,50,60,70,80,90,100,110,120,130,140,150,160,170,180,190,200,210,220,230,240,250,260,270,280,290,300,310,320,330,340,350,360,370,380,390,400,410,420,430,440,450,460,470,480,490,500,510,520,530,540,550,560,570,580,590,600,610,620,630,640,650,660,670,680,690,700,710,720,730,740,750,760,770,780,790,800,810,820,830], "tickCount": 100, "format": "d", "labelExpr": "datum.value % 100 == 0 ? datum.label : ''", "tickSize": {"condition": {"test": "datum.value % 100 == 0", "value": 13}, "value": 7}, "labelFontSize": 18, "labelPadding": 10, "labelFlush": false, "title": "Temperature ºC", "titleFontSize": 18, "titlePadding": 4}},
    "y": {"field": "v", "type": "quantitative", "scale": {"domain": [-0.1, 8.5], "nice": false, "zero": false}, "axis": {"values": [0,2,4,6,8], "tickCount": 100, "format": "d", "title": "Counts/s x10⁶", "titleX": -54, "titleAngle": -90, "titleBaseline": "middle", "titleAlign": "center", "tickSize": 12}},
    "color": {"field": "s", "type": "nominal", "scale": {"domain": ["Rocknest 4","John Klein 4 (x5)","Cumberland 5 (/3)","Windjana","Confidence Hills (x5)"], "range": ["#faa61a","#ea2a6e","#3c58a7","#0f9a4b","#8c2a8a"]}, "legend": {"legendX": 307, "legendY": -18.5}}
   }},
  {"data": {"name": "d6"}, "mark": {"type": "rule", "strokeDash": [4, 6], "strokeWidth": 2.5, "color": "#222"},
   "encoding": {"x": {"field": "T", "type": "quantitative"}, "y": {"field": "y", "type": "quantitative"}, "y2": {"field": "y2"}}}
 ]}
]
}
